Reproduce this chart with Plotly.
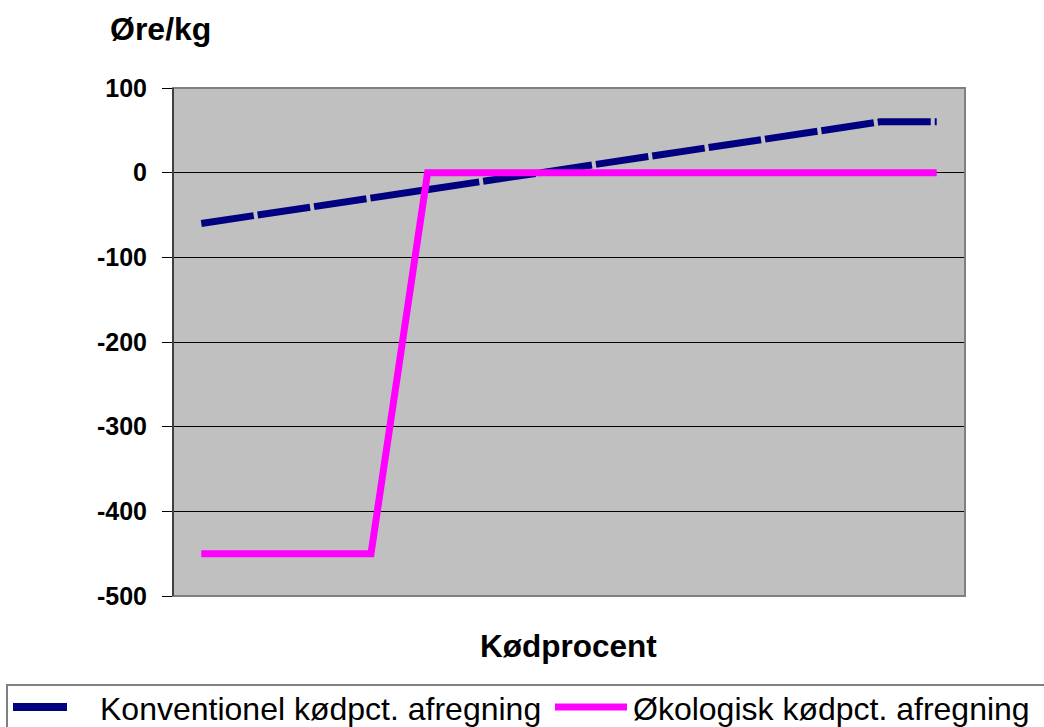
import plotly.graph_objects as go

# Data
kodprocent = [str(i) for i in range(1, 15)]  # 14 categories (no labels shown on chart)
konventionel = [-60, -50, -40, -30, -20, -10, 0, 10, 20, 30, 40, 50, 60, 60]
okologisk = [-450, -450, -450, -450, 0, 0, 0, 0, 0, 0, 0, 0, 0, 0]
y_ticks = [100, 0, -100, -200, -300, -400, -500]
series_names = ["Konventionel kødpct. afregning", "Økologisk kødpct. afregning"]

W, H = 1044, 727
L, R, T, B = 173, 965, 88, 596
PW, PH = R - L, B - T


def px(x):
    return (x - L) / PW


def py(y):
    return (B - y) / PH


FONT = "Liberation Sans, Arial, sans-serif"
NAVY = "#000080"
PINK = "#FF00FF"

fig = go.Figure()
fig.add_trace(go.Scatter(x=kodprocent, y=konventionel, mode="lines", name=series_names[0],
                         line=dict(color=NAVY, width=7, dash="53px,4px"), showlegend=False))
fig.add_trace(go.Scatter(x=kodprocent, y=okologisk, mode="lines", name=series_names[1],
                         line=dict(color=PINK, width=7), showlegend=False))

shapes = [
    # plot border (gray)
    dict(type="rect", xref="paper", yref="paper", x0=0, x1=1, y0=0, y1=1,
         line=dict(color="#808080", width=2), layer="above"),
    # left axis line (black)
    dict(type="line", xref="paper", yref="paper", x0=0, x1=0, y0=0, y1=1,
         line=dict(color="#000000", width=1), layer="above"),
    # legend box
    dict(type="rect", xref="paper", yref="paper", x0=px(7), x1=px(1060), y0=py(685), y1=py(760),
         line=dict(color="#808080", width=2), fillcolor="rgba(0,0,0,0)"),
    # legend symbols
    dict(type="line", xref="paper", yref="paper", x0=px(13), x1=px(67), y0=py(707), y1=py(707),
         line=dict(color=NAVY, width=8)),
    dict(type="line", xref="paper", yref="paper", x0=px(555), x1=px(627), y0=py(707), y1=py(707),
         line=dict(color=PINK, width=7)),
]

annotations = [
    dict(text="<b>Øre/kg</b>", xref="paper", yref="paper", x=px(108), y=py(29),
         xanchor="left", yanchor="middle", showarrow=False,
         font=dict(family=FONT, size=32, color="#000000")),
    dict(text="<b>Kødprocent</b>", xref="paper", yref="paper", x=px(568), y=py(646),
         xanchor="center", yanchor="middle", showarrow=False,
         font=dict(family=FONT, size=31.5, color="#000000")),
    dict(text=series_names[0], xref="paper", yref="paper", x=px(98), y=py(709),
         xanchor="left", yanchor="middle", showarrow=False,
         font=dict(family=FONT, size=32, color="#000000")),
    dict(text=series_names[1], xref="paper", yref="paper", x=px(631), y=py(709),
         xanchor="left", yanchor="middle", showarrow=False,
         font=dict(family=FONT, size=32, color="#000000")),
]

fig.update_layout(
    width=W, height=H,
    margin=dict(l=L, r=W - R, t=T, b=H - B, pad=0),
    paper_bgcolor="#FFFFFF",
    plot_bgcolor="#C0C0C0",
    showlegend=False,
    shapes=shapes,
    annotations=annotations,
    xaxis=dict(type="category", range=[-0.5, 13.5], showticklabels=False, showgrid=False,
               zeroline=False, showline=False, ticks=""),
    yaxis=dict(range=[-500, 100], tickvals=y_ticks, ticktext=[str(v) for v in y_ticks],
               showgrid=True, gridcolor="#000000", gridwidth=1,
               zeroline=True, zerolinecolor="#000000", zerolinewidth=1,
               showline=False, ticks="outside", ticklen=10, tickcolor="#000000", tickwidth=1,
               ticklabelstandoff=10,
               tickfont=dict(family=FONT, size=25, color="#000000", weight="bold")),
)

fig.write_html("out.html", config={"displayModeBar": False},
               post_script="document.body.style.margin='0';document.body.style.overflow='hidden';")
